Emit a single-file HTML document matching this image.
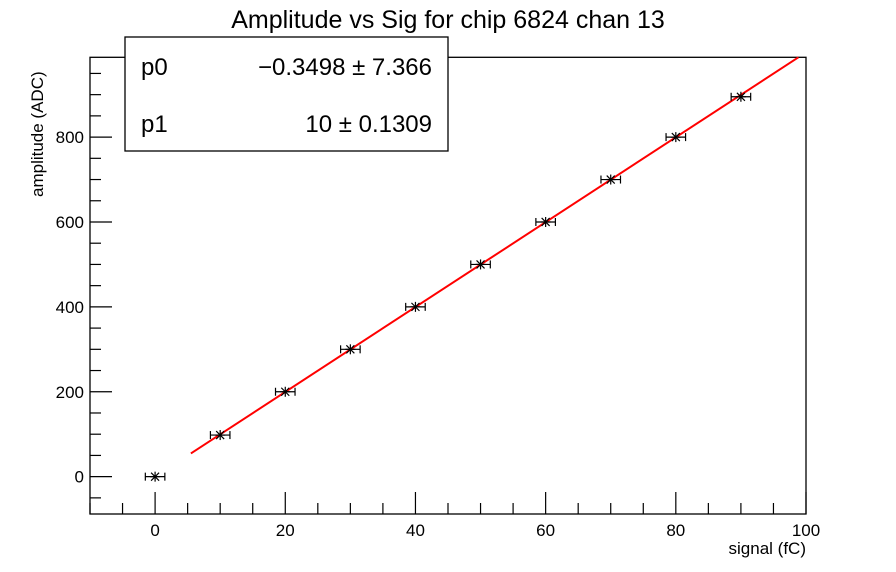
<!DOCTYPE html>
<html><head><meta charset="utf-8"><style>
body{margin:0;background:#fff;}
svg{display:block;font-family:"Liberation Sans",Arial,sans-serif;}
</style></head><body>
<svg id="chart" width="896" height="572" viewBox="0 0 896 572">
<rect width="896" height="572" fill="#fff"/>
<text x="448" y="28" font-size="25" text-anchor="middle">Amplitude vs Sig for chip 6824 chan 13</text>
<rect x="90" y="57.3" width="716" height="456.7" fill="none" stroke="#000" stroke-width="1.3"/>
<g id="axes"></g>
<g id="marks"></g>
<text x="806" y="554" font-size="17" text-anchor="end">signal (fC)</text>
<text transform="translate(43,197) rotate(-90)" font-size="17" text-anchor="start">amplitude (ADC)</text>
<g>
<rect x="125" y="37" width="323" height="114" fill="#fff" stroke="#000" stroke-width="1.3"/>
<text x="141" y="75" font-size="24">p0</text>
<text x="432" y="75" font-size="24" text-anchor="end">−0.3498 ± 7.366</text>
<text x="141" y="132" font-size="24">p1</text>
<text x="432" y="132" font-size="24" text-anchor="end">10 ± 0.1309</text>
</g>
</svg>
<script>
const xValues=[0,10,20,30,40,50,60,70,80,90];
const yValues=[0,98,200,300,400,500,600,700,800,895];
const xErrors=[1.5,1.5,1.5,1.5,1.5,1.5,1.5,1.5,1.5,1.5];
const xTickLabels=[0,20,40,60,80,100];
const yTickLabels=[0,200,400,600,800];
const fitP0=-0.3498, fitP1=10;
const fitRange=[5.5,120];
const NS='http://www.w3.org/2000/svg';
const L=90,R=806,T=57.3,B=514,XMIN=-10,XMAX=100,YMIN=-88,YMAX=988;
const sx=v=>L+(v-XMIN)/(XMAX-XMIN)*(R-L);
const sy=v=>B-(v-YMIN)/(YMAX-YMIN)*(B-T);
function mk(tag,attrs,parent){const e=document.createElementNS(NS,tag);for(const k in attrs)e.setAttribute(k,attrs[k]);parent.appendChild(e);return e;}
const axes=document.getElementById('axes'),marks=document.getElementById('marks');
for(let v=-10;v<=100;v+=5){
 const major=v%20===0;
 const t=mk('line',{x1:sx(v),x2:sx(v),y1:B,y2:B-(major?22:11),stroke:'#000','stroke-width':1.2},axes);
 
 
}
xTickLabels.forEach(v=>{const t=mk('text',{x:sx(v),y:B+22,'font-size':17,'text-anchor':'middle'},axes);t.textContent=v;
 
 });
for(let v=-50;v<=950;v+=50){
 const major=v%200===0;
 const t=mk('line',{x1:L,x2:L+(major?22:11),y1:sy(v),y2:sy(v),stroke:'#000','stroke-width':1.2},axes);
 
 
}
yTickLabels.forEach(v=>{const t=mk('text',{x:L-6,y:sy(v)+6,'font-size':17,'text-anchor':'end'},axes);t.textContent=v;
 
 });
// fit line clipped to frame
let x1=fitRange[0],x2=Math.min(fitRange[1],XMAX);
const yAt=x=>fitP0+fitP1*x;
if(yAt(x2)>YMAX)x2=(YMAX-fitP0)/fitP1;
const fl=mk('line',{x1:sx(x1),y1:sy(yAt(x1)),x2:sx(x2),y2:sy(yAt(x2)),stroke:'#f00','stroke-width':2},marks);


xValues.forEach((xv,i)=>{
 const cx=sx(xv),cy=sy(yValues[i]);
 const g=mk('g',{stroke:'#000','stroke-width':1.2},marks);
 
 
 const xl=sx(xv-xErrors[i]),xr=sx(xv+xErrors[i]);
 mk('line',{x1:xl,x2:xr,y1:cy,y2:cy},g);
 mk('line',{x1:xl,x2:xl,y1:cy-4,y2:cy+4},g);
 mk('line',{x1:xr,x2:xr,y1:cy-4,y2:cy+4},g);
 mk('line',{x1:cx-5,x2:cx+5,y1:cy,y2:cy},g);
 mk('line',{x1:cx,x2:cx,y1:cy-5,y2:cy+5},g);
 mk('line',{x1:cx-4,x2:cx+4,y1:cy-4,y2:cy+4},g);
 mk('line',{x1:cx-4,x2:cx+4,y1:cy+4,y2:cy-4},g);
});
</script>
</body></html>
